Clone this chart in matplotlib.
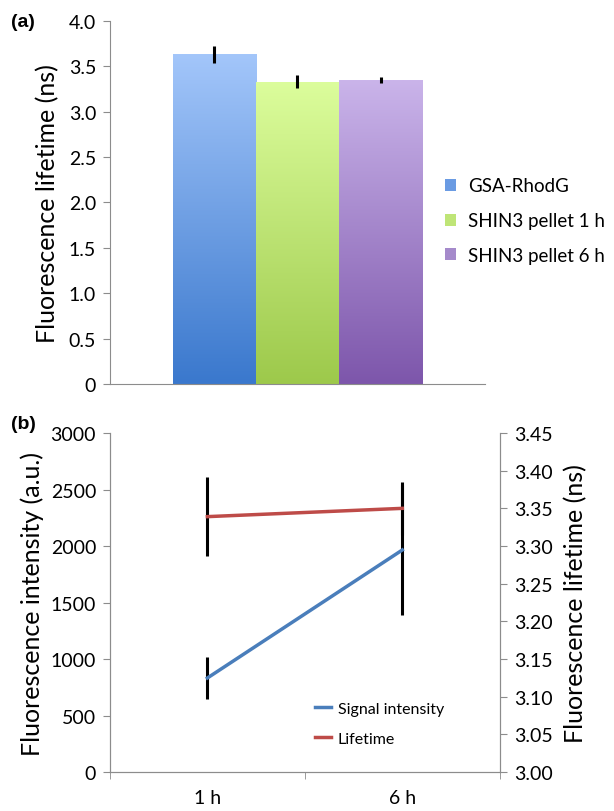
import numpy as np
import matplotlib.pyplot as plt
from matplotlib import rcParams
from matplotlib.colors import LinearSegmentedColormap

rcParams['font.family'] = ['Lato', 'DejaVu Sans']
rcParams['font.size'] = 14

# panel (a) data
samples = ['GSA-RhodG', 'SHIN3 pellet 1 h', 'SHIN3 pellet 6 h']
lifetime_a = [3.63, 3.33, 3.35]
lifetime_a_err = [0.09, 0.07, 0.03]
bar_top = ['#A3C6FA', '#DCFD9C', '#CAB4EA']
bar_bot = ['#3A78CD', '#9DC94B', '#7D56AB']

# panel (b) data
times = ['1 h', '6 h']
intensity = [832, 1965]
intensity_err = [190, 575]
lifetime_b = [3.339, 3.350]
lifetime_b_err = [0.052, 0.035]

grey = '#8c8c8c'
fig = plt.figure(figsize=(6.14, 8.12), dpi=100)

# ---- (a) ----
ax0 = fig.add_axes([0.179, 0.526, 0.611, 0.447])
w = 0.222
xs = (np.arange(len(samples)) - 1) * w
bars = ax0.bar(xs, lifetime_a, width=w, color='none', edgecolor='none')
grad = np.linspace(1, 0, 256).reshape(-1, 1)
for b, top, bot in zip(bars, bar_top, bar_bot):
    cm = LinearSegmentedColormap.from_list('g', [bot, top])
    x0 = b.get_x()
    im = ax0.imshow(grad, cmap=cm, aspect='auto', origin='upper',
                    extent=[x0, x0 + b.get_width(), 0, b.get_height()], zorder=1)
    im.set_clip_path(b)
ax0.errorbar(xs, lifetime_a, yerr=lifetime_a_err, fmt='none', ecolor='black',
             elinewidth=2.2, capsize=0, zorder=3)
ax0.set_xlim(-0.5, 0.5)
ax0.set_ylim(0, 4.0)
ax0.set_yticks(np.arange(0, 4.01, 0.5))
ax0.set_yticklabels(['0'] + ['%.1f' % v for v in np.arange(0.5, 4.01, 0.5)])
ax0.set_xticks([])
for s in ['top', 'right']:
    ax0.spines[s].set_visible(False)
for s in ['left', 'bottom']:
    ax0.spines[s].set_color(grey)
ax0.tick_params(axis='y', colors=grey, labelcolor='black', labelsize=14, length=5, pad=5)
ax0.set_ylabel('Fluorescence lifetime (ns)', fontsize=18, labelpad=7)
handles = [plt.Rectangle((0, 0), 1, 1, facecolor=c) for c in ['#6A9BE3', '#BFE577', '#A58ACB']]
fig.legend(handles, samples, loc='center left', bbox_to_anchor=(0.725, 0.727),
           bbox_transform=fig.transFigure, frameon=False, fontsize=13.5,
           handlelength=0.6, handleheight=0.6, labelspacing=0.95,
           handletextpad=0.6, borderaxespad=0, borderpad=0)
fig.text(0.018, 0.972, '(a)', fontsize=14, fontweight='bold', va='center',
         family='Liberation Sans')

# ---- (b) ----
ax1 = fig.add_axes([0.179, 0.048, 0.635, 0.4175])
ax2 = ax1.twinx()
xb = np.arange(len(times))
ax1.errorbar(xb, intensity, yerr=intensity_err, fmt='none', ecolor='black',
             elinewidth=2.2, capsize=0, zorder=2)
l1, = ax1.plot(xb, intensity, color='#4A7EBB', lw=2.5, zorder=3)
ax2.errorbar(xb, lifetime_b, yerr=lifetime_b_err, fmt='none', ecolor='black',
             elinewidth=2.2, capsize=0, zorder=2)
l2, = ax2.plot(xb, lifetime_b, color='#BE4B48', lw=2.5, zorder=3)
ax1.set_xlim(-0.5, 1.5)
ax1.set_ylim(0, 3000)
ax1.set_yticks(np.arange(0, 3001, 500))
ax2.set_ylim(3.0, 3.45)
ax2.set_yticks(np.arange(3.0, 3.451, 0.05))
ax2.set_yticklabels(['%.2f' % v for v in np.arange(3.0, 3.451, 0.05)])
ax1.set_xticks(xb)
ax1.set_xticklabels(times)
ax1.set_xticks([-0.5, 0.5, 1.5], minor=True)
ax1.tick_params(axis='x', which='major', length=0, labelsize=14, pad=12)
ax1.tick_params(axis='x', which='minor', length=5, colors=grey)
ax1.tick_params(axis='y', colors=grey, labelcolor='black', labelsize=14, length=5, pad=5)
ax2.tick_params(axis='y', colors=grey, labelcolor='black', labelsize=14, length=5, pad=5)
for a in [ax1, ax2]:
    a.spines['top'].set_visible(False)
    for s in ['left', 'right', 'bottom']:
        a.spines[s].set_color(grey)
ax1.set_ylabel('Fluorescence intensity (a.u.)', fontsize=18, labelpad=5)
ax2.set_ylabel('Fluorescence lifetime (ns)', fontsize=18, labelpad=8)
ax1.legend([l1, l2], ['Signal intensity', 'Lifetime'], loc='lower left',
           bbox_to_anchor=(0.49, 0.035), frameon=False, fontsize=11.5,
           handlelength=1.0, labelspacing=1.0, handletextpad=0.4)
fig.text(0.018, 0.477, '(b)', fontsize=14, fontweight='bold', va='center',
         family='Liberation Sans')

fig.savefig('out.png', dpi=100)
